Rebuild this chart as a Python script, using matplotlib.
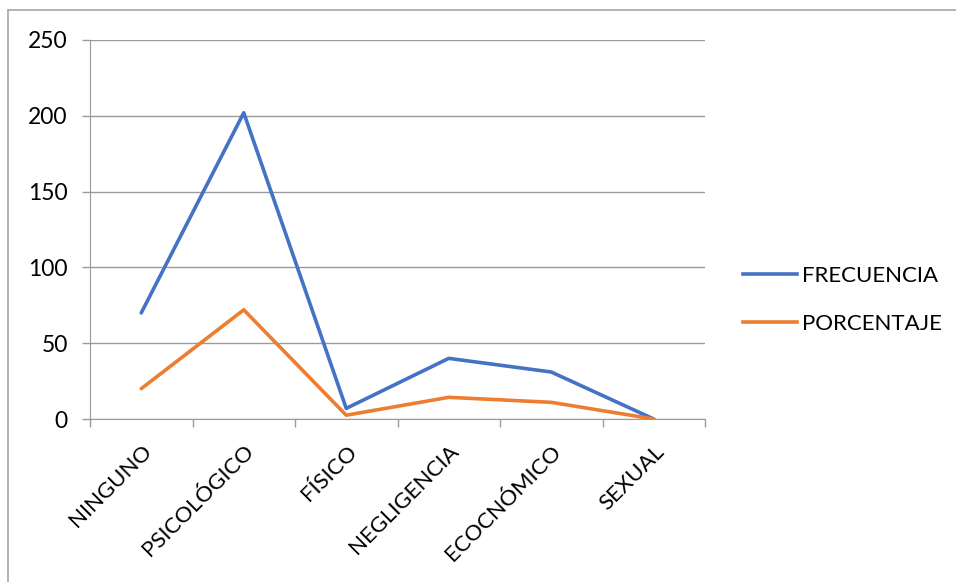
import matplotlib
matplotlib.use("Agg")
import matplotlib.pyplot as plt
from matplotlib.lines import Line2D
import numpy as np

categories = ["NINGUNO", "PSICOLÓGICO", "FÍSICO", "NEGLIGENCIA", "ECOCNÓMICO", "SEXUAL"]
frecuencia = [70, 202, 7, 40, 31, 0]
porcentaje = [20, 72, 2.5, 14.3, 11, 0]
y_ticks = [0, 50, 100, 150, 200, 250]

plt.rcParams["font.family"] = ["Lato", "DejaVu Sans"]

W, H = 956, 582
fig = plt.figure(figsize=(W / 100, H / 100), dpi=100)

# plot area in pixel coordinates
left, right, top, bottom = 90, 705, 40, 419
ax = fig.add_axes([left / W, 1 - bottom / H, (right - left) / W, (bottom - top) / H])

x = np.arange(len(categories))
ax.plot(x, frecuencia, color="#4472C4", lw=2.6, solid_capstyle="round", label="FRECUENCIA")
ax.plot(x, porcentaje, color="#ED7D31", lw=2.6, solid_capstyle="round", label="PORCENTAJE")

ax.set_xlim(-0.5, len(categories) - 0.5)
ax.set_ylim(0, 250)
ax.set_yticks(y_ticks)
ax.set_yticklabels([str(v) for v in y_ticks], fontsize=16.5)
ax.yaxis.grid(True, color="#9a9a9a", lw=1.0)
ax.set_axisbelow(True)

ax.set_xticks(np.arange(len(categories) + 1) - 0.5, minor=False)
ax.set_xticklabels([])
ax.set_xticks(x, minor=True)
ax.set_xticklabels(categories, minor=True, rotation=45, ha="right", va="top",
                   rotation_mode="anchor", fontsize=16)
ax.tick_params(axis="x", which="major", length=6, color="#9a9a9a", width=1)
ax.tick_params(axis="x", which="minor", length=0, pad=16)
ax.tick_params(axis="y", length=6, color="#9a9a9a", width=1, pad=10)

for s in ["top", "right"]:
    ax.spines[s].set_visible(False)
ax.spines["left"].set_color("#9a9a9a")
ax.spines["bottom"].set_color("#9a9a9a")

handles = [Line2D([], [], color="#4472C4", lw=2.6), Line2D([], [], color="#ED7D31", lw=2.6)]
fig.legend(handles, ["FRECUENCIA", "PORCENTAJE"], loc="center left",
           bbox_to_anchor=(723 / W, 1 - 300 / H), frameon=False, fontsize=16,
           handlelength=2.45, handletextpad=0.22, labelspacing=1.25)

# outer chart frame
fig.add_artist(Line2D([8 / W, 1], [1 - 10 / H, 1 - 10 / H], color="#a6a6a6", lw=1.2))
fig.add_artist(Line2D([8 / W, 8 / W], [1 - 10 / H, 0], color="#a6a6a6", lw=1.2))

fig.savefig("out.png", dpi=100)
